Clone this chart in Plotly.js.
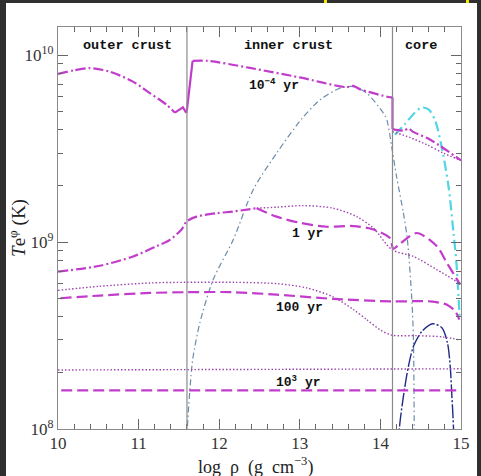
<!DOCTYPE html>
<html><head><meta charset="utf-8">
<script src="https://cdn.plot.ly/plotly-3.0.1.min.js"></script>
<style>
html,body{margin:0;padding:0;background:#2f2f2f;width:481px;height:476px;overflow:hidden;}
#plot{position:absolute;left:6px;top:3px;width:471px;height:473px;background:#fff;}
.mark{position:absolute;top:0;width:3px;height:5px;background:#f5e400;}
</style></head>
<body>
<div class="mark" style="left:324px"></div>
<div class="mark" style="left:466px"></div>
<div id="plot"></div>
<script>
// log rho (g cm^-3) and Te (K)
// 10^-4 yr curve, in pieces: outer crust, jump, inner crust, drop, core
const xE4outer = [10.0,10.2,10.39,10.64,10.93,11.14,11.35,11.45];
const tE4outer = [7.96e9,8.32e9,8.55e9,8.19e9,7.24e9,6.28e9,5.43e9,4.94e9];
const xE4jump = [11.45,11.51,11.55,11.59,11.60,11.67];
const tE4jump = [4.94e9,5.12e9,5.27e9,4.93e9,5.12e9,9.35e9];
const xE4inner = [11.67,11.86,12.38,13.0,13.58,13.66,13.75,14.12,14.15];
const tE4inner = [9.35e9,9.35e9,8.57e9,7.62e9,6.76e9,6.87e9,6.58e9,5.97e9,5.97e9];
const xE4drop = [14.15,14.15];
const tE4drop = [5.97e9,4.03e9];
const xE4core = [14.15,14.29,14.35,14.40,14.58,14.74,15.0];
const tE4core = [4.03e9,3.96e9,4.06e9,3.91e9,3.61e9,3.28e9,2.74e9];
const xE4dot = [14.15,14.37,14.58,14.78,15.0];
const tE4dot = [3.91e9,3.63e9,3.32e9,3.00e9,2.74e9];
const xCyan = [14.18,14.30,14.42,14.51,14.60,14.68,14.76,14.845,14.907,14.94,14.965,14.984];
const tCyan = [3.76e9,4.27e9,4.90e9,5.26e9,5.13e9,4.47e9,3.24e9,1.99e9,1.12e9,8.05e8,5.57e8,3.85e8];
const xGray = [11.60,11.605,11.657,11.677,11.76,11.925,12.174,12.422,12.713,13.024,13.25,13.50,13.665,13.83,14.037,14.08,14.14,14.20,14.286,14.335,14.39,14.41,14.42,14.425];
const tGray = [6.31e7,1.0e8,2.08e8,2.45e8,3.70e8,6.30e8,1.03e9,1.91e9,3.00e9,4.57e9,5.78e9,6.68e9,6.81e9,6.28e9,4.91e9,4.52e9,3.25e9,2.25e9,1.43e9,1.03e9,4.93e8,3.01e8,1.0e8,6.31e7];
const xNavy = [14.225,14.236,14.286,14.348,14.41,14.514,14.651,14.763,14.832,14.866,14.887,14.907,14.915];
const tNavy = [6.31e7,1.01e8,1.50e8,2.17e8,2.77e8,3.33e8,3.66e8,3.48e8,2.89e8,2.17e8,1.50e8,1.01e8,6.31e7];
const x1a = [10.0,10.518,10.932,11.222,11.388,11.533,11.595,11.719,11.968,12.174,12.465];
const t1a = [6.95e8,7.48e8,8.39e8,9.51e8,1.03e9,1.17e9,1.29e9,1.37e9,1.43e9,1.46e9,1.52e9];
const x1dot = [12.465,12.713,13.043,13.416,13.707,13.913,14.142,14.41,14.70,14.99];
const t1dot = [1.52e9,1.54e9,1.57e9,1.52e9,1.37e9,1.19e9,9.12e8,8.39e8,7.13e8,6.00e8];
const x1dash = [12.465,12.713,13.003,13.334,13.665,13.913,14.12,14.16,14.245,14.45,14.70,14.825,14.928,14.99];
const t1dash = [1.52e9,1.37e9,1.27e9,1.21e9,1.22e9,1.17e9,1.05e9,9.23e8,9.82e8,1.12e9,9.51e8,7.74e8,6.56e8,5.93e8];
const x100dot = [10.0,10.518,11.14,11.595,12.174,12.713,13.086,13.416,13.665,13.83,13.996,14.14,14.45,14.78,14.99];
const t100dot = [5.52e8,5.81e8,6.05e8,6.10e8,6.10e8,6.00e8,5.69e8,5.09e8,4.36e8,3.85e8,3.40e8,3.18e8,3.16e8,3.11e8,2.99e8];
const x100dash = [10.03,10.518,11.14,11.595,12.174,12.713,13.416,14.14,14.617,14.825,14.928,14.98];
const t100dash = [5.01e8,5.18e8,5.35e8,5.40e8,5.40e8,5.24e8,4.97e8,4.82e8,4.82e8,4.63e8,4.27e8,3.85e8];
const x1000dot = [10.0,12.5,15.0];
const t1000dot = [2.07e8,2.09e8,2.10e8];
const x1000dash = [10.04,12.5,15.0];
const t1000dash = [1.61e8,1.61e8,1.61e8];
const boundaries = [11.6,14.15];
const regionNames = ['outer crust','inner crust','core'];
const regionX = [10.86,12.86,14.5];
const curveLabels = ['10<sup>−4</sup> yr','1 yr','100 yr','10<sup>3</sup> yr'];
const curveLabelX = [12.68,13.10,13.0,12.98];
const curveLabelT = [6.95e9,1.12e9,4.47e8,1.79e8];
const yTickVals = [1e8,1e9,1e10];
const yTickText = ['10<sup>8</sup>','10<sup>9</sup>','10<sup>10</sup>'];
const xTickVals = [10,11,12,13,14,15];

const MAG = '#c23ccc', DOT = '#9e44b0';
function tr(x,y,color,width,dash,smooth){
  const line = {color:color,width:width,dash:dash};
  if(smooth){line.shape='spline';line.smoothing=smooth;}
  return {x:x,y:y,type:'scatter',mode:'lines',line:line,hoverinfo:'skip',showlegend:false};
}
const DD = '10px,3px,2px,3px', LD = '11px,5px', DT = '1.5px,2px';
const S = 0.8;
const traces = [
  tr(xGray,tGray,'#6a8cab',1.2,'6px,3px,1.5px,3px',S),
  tr(xNavy,tNavy,'#1f2b85',1.4,'14px,2px,2px,2px',S),
  tr(xCyan,tCyan,'#4fd6e2',2.2,'10px,4px,2px,4px',S),
  tr(xE4dot,tE4dot,DOT,1.4,DT,S),
  tr(xE4outer,tE4outer,MAG,2.2,DD,S),
  tr(xE4jump,tE4jump,MAG,2.2,'solid',0),
  tr(xE4inner,tE4inner,MAG,2.2,DD,S),
  tr(xE4drop,tE4drop,MAG,2.2,'solid',0),
  tr(xE4core,tE4core,MAG,2.2,DD,S),
  tr(x1dot,t1dot,DOT,1.4,DT,S),
  tr(x1a,t1a,MAG,2.2,DD,S),
  tr(x1dash,t1dash,MAG,2.2,LD,S),
  tr(x100dot,t100dot,DOT,1.4,DT,S),
  tr(x100dash,t100dash,MAG,2.2,LD,S),
  tr(x1000dot,t1000dot,DOT,1.4,DT,0),
  tr(x1000dash,t1000dash,MAG,2.2,LD,0)
];
const minorX=[]; for(let v=10;v<15.01;v+=0.2){const r=Math.round(v*10)/10; if(Math.abs(r-Math.round(r))>1e-6) minorX.push(r);}
const minorY=[]; [1e8,1e9,1e10].forEach(d=>{for(let k=2;k<=9;k++){minorY.push(k*d);}});
const LAB = {family:'Liberation Mono, Courier New, monospace',size:13.5,color:'#111'};
const annotations = [];
regionNames.forEach((t,i)=>annotations.push({x:regionX[i],y:0.955,xref:'x',yref:'paper',text:'<b>'+t+'</b>',showarrow:false,font:LAB,xanchor:'center',yanchor:'middle'}));
curveLabels.forEach((t,i)=>annotations.push({x:curveLabelX[i],y:Math.log10(curveLabelT[i]),xref:'x',yref:'y',text:'<b>'+t+'</b>',showarrow:false,font:{family:LAB.family,size:13,color:'#111'},xanchor:'center',yanchor:'middle'}));
annotations.push({x:-0.102,y:0.5,xref:'paper',yref:'paper',text:'<i>T</i>e<sup>φ</sup> (K)',textangle:-90,showarrow:false,font:{family:'Liberation Serif, serif',size:19,color:'#222'},xanchor:'center',yanchor:'middle'});
annotations.push({x:0.489,y:-0.092,xref:'paper',yref:'paper',text:'log  ρ  (g  cm<sup>−3</sup>)',showarrow:false,font:{family:'Liberation Serif, serif',size:18,color:'#222'},xanchor:'center',yanchor:'middle'});
const shapes = boundaries.map(b=>({type:'line',xref:'x',yref:'paper',x0:b,x1:b,y0:0,y1:1,line:{color:'#8a8a8a',width:1.2}}));
const layout = {
  width:471,height:473,margin:{l:52,r:16,t:24,b:47},
  paper_bgcolor:'#ffffff',plot_bgcolor:'#ffffff',showlegend:false,
  xaxis:{range:[10,15],tickmode:'array',tickvals:xTickVals,ticks:'inside',ticklen:10,tickwidth:1,tickcolor:'#666',
    showline:true,linecolor:'#8a8a8a',linewidth:1.2,mirror:'ticks',showgrid:false,zeroline:false,ticklabelstandoff:-2,
    tickfont:{family:'Liberation Serif, serif',size:17,color:'#333'},
    minor:{tickmode:'array',tickvals:minorX,ticks:'inside',ticklen:5,tickcolor:'#666',showgrid:false}},
  yaxis:{type:'log',range:[8,10.152],tickmode:'array',tickvals:yTickVals,ticktext:yTickText,ticks:'inside',ticklen:10,tickwidth:1,tickcolor:'#666',
    showline:true,linecolor:'#8a8a8a',linewidth:1.2,mirror:'ticks',showgrid:false,zeroline:false,
    tickfont:{family:'Liberation Serif, serif',size:17,color:'#333'},
    minor:{tickmode:'array',tickvals:minorY,ticks:'inside',ticklen:5,tickcolor:'#666',showgrid:false}},
  annotations:annotations,shapes:shapes
};
Plotly.newPlot('plot',traces,layout,{staticPlot:true,displayModeBar:false});
</script>
</body></html>
